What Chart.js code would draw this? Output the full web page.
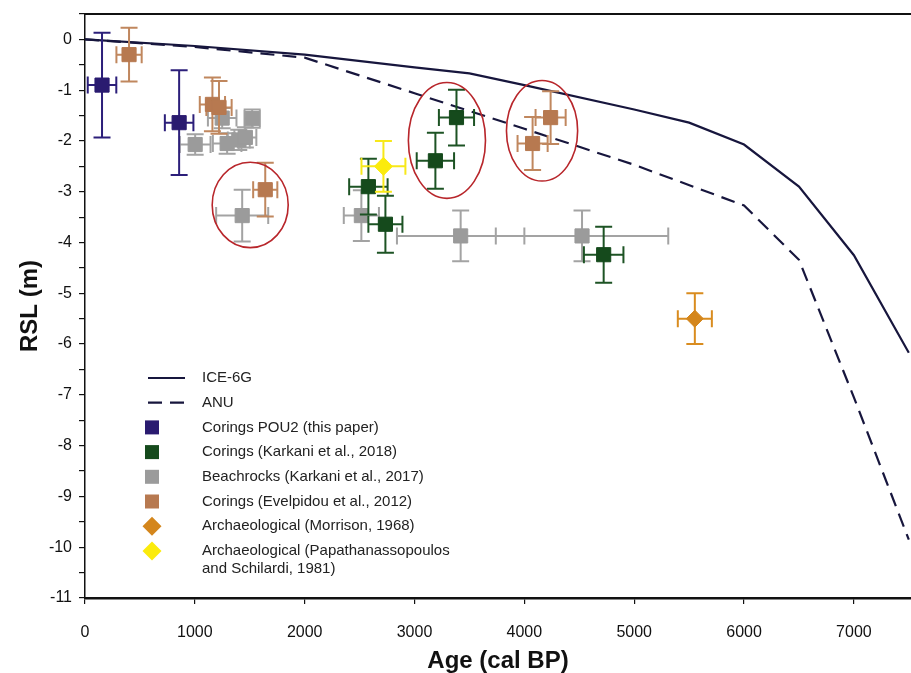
<!DOCTYPE html>
<html>
<head>
<meta charset="utf-8">
<script src="https://cdn.jsdelivr.net/npm/chart.js@4/dist/chart.umd.min.js"></script>
<style>
  html, body { margin: 0; padding: 0; background: #fff; }
  #wrap { width: 911px; height: 673px; }
</style>
</head>
<body>
<div id="wrap"><canvas id="graph" width="911" height="673"></canvas></div>
<script>
// model curves
const iceAge = [0, 1000, 2000, 3000, 3500, 4000, 5000, 5500, 6000, 6500, 7000, 7500];
const iceRsl = [0, -0.13, -0.3, -0.55, -0.67, -0.9, -1.38, -1.64, -2.07, -2.9, -4.25, -6.17];
const anuAge = [0, 1000, 2000, 3000, 4000, 5000, 6000, 6500, 7000, 7500];
const anuRsl = [0, -0.15, -0.36, -1.06, -1.76, -2.47, -3.27, -4.34, -7.05, -9.85];

// Corings POU2 (this paper)
const pouAge = [155, 857];
const pouRsl = [-0.9, -1.64];
const pouAgeErr = [130, 130];
const pouRslErr = [1.03, 1.03];

// Corings (Karkani et al., 2018)
const k18Age = [2580, 2735, 3190, 3382, 4722];
const k18Rsl = [-2.9, -3.64, -2.39, -1.54, -4.24];
const k18AgeErr = [175, 155, 170, 160, 180];
const k18RslErr = [0.55, 0.56, 0.55, 0.55, 0.55];

// Beachrocks (Karkani et al., 2017)
const k17Age = [1003, 1249, 1294, 1400, 1460, 1522, 1431, 2516, 3420, 4525];
const k17Rsl = [-2.07, -1.55, -2.05, -1.98, -1.93, -1.56, -3.47, -3.47, -3.87, -3.87];
const k17AgeErr = [140, 130, 130, 100, 100, 70, 237, 160, 580, 785];
const k17RslErr = [0.2, 0.2, 0.2, 0.2, 0.2, 0.18, 0.51, 0.5, 0.5, 0.5];

// Corings (Evelpidou et al., 2012)
const evAge = [401, 1160, 1220, 1641, 4075, 4239];
const evRsl = [-0.3, -1.28, -1.34, -2.96, -2.05, -1.54];
const evAgeErr = [115, 115, 115, 110, 137, 137];
const evRslErr = [0.53, 0.53, 0.52, 0.53, 0.52, 0.52];

// Archaeological
const morAge = [5552];
const morRsl = [-5.5];
const morAgeErr = [155];
const morRslErr = [0.5];
const papAge = [2717];
const papRsl = [-2.5];
const papAgeErr = [200];
const papRslErr = [0.5];

// red circles: centre age, centre rsl, half width (yr), half height (m)
const circleAge = [1504, 3295, 4161];
const circleRsl = [-3.26, -1.99, -1.80];
const circleRx = [346, 351, 324];
const circleRy = [0.84, 1.14, 0.99];

const xTicks = [0, 1000, 2000, 3000, 4000, 5000, 6000, 7000];

function pts(xs, ys) {
  return xs.map((x, i) => ({ x: x, y: ys[i] }));
}

const errorBars = {
  id: "errorBars",
  beforeDatasetDraw(chart, args) {
    const ds = chart.data.datasets[args.index];
    if (!ds.errX) return;
    const sx = chart.scales.x;
    const sy = chart.scales.y;
    const ctx = chart.ctx;
    const cap = 8.5;
    ctx.save();
    ctx.strokeStyle = ds.barColor;
    ctx.lineWidth = 2;
    ds.data.forEach((p, i) => {
      const cx = sx.getPixelForValue(p.x);
      const cy = sy.getPixelForValue(p.y);
      const x1 = sx.getPixelForValue(p.x - ds.errX[i]);
      const x2 = sx.getPixelForValue(p.x + ds.errX[i]);
      const y1 = sy.getPixelForValue(p.y + ds.errY[i]);
      const y2 = sy.getPixelForValue(p.y - ds.errY[i]);
      ctx.beginPath();
      ctx.moveTo(x1, cy); ctx.lineTo(x2, cy);
      ctx.moveTo(x1, cy - cap); ctx.lineTo(x1, cy + cap);
      ctx.moveTo(x2, cy - cap); ctx.lineTo(x2, cy + cap);
      ctx.moveTo(cx, y1); ctx.lineTo(cx, y2);
      ctx.moveTo(cx - cap, y1); ctx.lineTo(cx + cap, y1);
      ctx.moveTo(cx - cap, y2); ctx.lineTo(cx + cap, y2);
      ctx.stroke();
    });
    ctx.restore();
  }
};

const extras = {
  id: "extras",
  afterDatasetsDraw(chart) {
    const ctx = chart.ctx;
    const sx = chart.scales.x;
    const sy = chart.scales.y;
    const area = chart.chartArea;
    ctx.save();
    // red circles
    ctx.strokeStyle = "#b8262b";
    ctx.lineWidth = 1.6;
    circleAge.forEach((a, i) => {
      const cx = sx.getPixelForValue(a);
      const cy = sy.getPixelForValue(circleRsl[i]);
      const rx = Math.abs(sx.getPixelForValue(a + circleRx[i]) - cx);
      const ry = Math.abs(sy.getPixelForValue(circleRsl[i] + circleRy[i]) - cy);
      ctx.beginPath();
      ctx.ellipse(cx, cy, rx, ry, 0, 0, Math.PI * 2);
      ctx.stroke();
    });
    // top frame
    ctx.strokeStyle = "#111";
    ctx.lineWidth = 2;
    ctx.beginPath();
    ctx.moveTo(area.left, area.top);
    ctx.lineTo(area.right, area.top);
    ctx.stroke();
    ctx.restore();
  },
  afterDraw(chart) {
    // legend inside the plot
    const ctx = chart.ctx;
    const x0 = 148, tx = 202;
    let y = 378;
    const step = 24.7;
    ctx.save();
    ctx.font = '15px "Liberation Sans", Arial, sans-serif';
    ctx.textBaseline = "middle";
    ctx.fillStyle = "#222";
    chart.data.datasets.forEach((ds) => {
      ctx.save();
      if (ds.showLine) {
        ctx.strokeStyle = ds.borderColor;
        ctx.lineWidth = 2.2;
        ctx.setLineDash(ds.borderDash || []);
        ctx.beginPath();
        ctx.moveTo(x0, y);
        ctx.lineTo(x0 + 37, y);
        ctx.stroke();
      } else {
        ctx.fillStyle = ds.backgroundColor;
        const mx = 152;
        if (ds.pointStyle === "rectRot") {
          const r = 9.5;
          ctx.beginPath();
          ctx.moveTo(mx, y - r);
          ctx.lineTo(mx + r, y);
          ctx.lineTo(mx, y + r);
          ctx.lineTo(mx - r, y);
          ctx.closePath();
          ctx.fill();
        } else {
          ctx.fillRect(mx - 7, y - 7, 14, 14);
        }
      }
      ctx.restore();
      const lines = Array.isArray(ds.label) ? ds.label : [ds.label];
      lines.forEach((t, k) => ctx.fillText(t, tx, y + k * 17.5));
      y += step;
    });
    ctx.restore();
  }
};

const ctx = document.getElementById("graph").getContext("2d");

new Chart(ctx, {
  type: "scatter",
  data: {
    datasets: [
      {
        label: "ICE-6G",
        data: pts(iceAge, iceRsl),
        showLine: true,
        borderColor: "#17163d",
        borderWidth: 2.2,
        pointRadius: 0,
        order: 10,
      },
      {
        label: "ANU",
        data: pts(anuAge, anuRsl),
        showLine: true,
        borderColor: "#17163d",
        borderWidth: 2.2,
        borderDash: [14, 8],
        pointRadius: 0,
        order: 9,
      },
      {
        label: "Corings POU2 (this paper)",
        data: pts(pouAge, pouRsl),
        errX: pouAgeErr,
        errY: pouRslErr,
        barColor: "#2c1f7a",
        backgroundColor: "#2a1b70",
        borderColor: "#2a1b70",
        pointStyle: "rect",
        pointRadius: 10,
        order: 3,
      },
      {
        label: "Corings (Karkani et al., 2018)",
        data: pts(k18Age, k18Rsl),
        errX: k18AgeErr,
        errY: k18RslErr,
        barColor: "#1d5324",
        backgroundColor: "#154a1c",
        borderColor: "#154a1c",
        pointStyle: "rect",
        pointRadius: 10,
        order: 4,
      },
      {
        label: "Beachrocks (Karkani et al., 2017)",
        data: pts(k17Age, k17Rsl),
        errX: k17AgeErr,
        errY: k17RslErr,
        barColor: "#a3a3a3",
        backgroundColor: "#9b9b9b",
        borderColor: "#9b9b9b",
        pointStyle: "rect",
        pointRadius: 10,
        order: 6,
      },
      {
        label: "Corings (Evelpidou et al., 2012)",
        data: pts(evAge, evRsl),
        errX: evAgeErr,
        errY: evRslErr,
        barColor: "#c0875e",
        backgroundColor: "#b77950",
        borderColor: "#b77950",
        pointStyle: "rect",
        pointRadius: 10,
        order: 5,
      },
      {
        label: "Archaeological (Morrison, 1968)",
        data: pts(morAge, morRsl),
        errX: morAgeErr,
        errY: morRslErr,
        barColor: "#d98c1f",
        backgroundColor: "#d4861c",
        borderColor: "#d4861c",
        pointStyle: "rectRot",
        pointRadius: 8.5,
        order: 1,
      },
      {
        label: ["Archaeological (Papathanassopoulos", "and Schilardi, 1981)"],
        data: pts(papAge, papRsl),
        errX: papAgeErr,
        errY: papRslErr,
        barColor: "#f7e81a",
        backgroundColor: "#fbeb0c",
        borderColor: "#fbeb0c",
        pointStyle: "rectRot",
        pointRadius: 9,
        order: 2,
      },
    ],
  },
  options: {
    responsive: false,
    animation: false,
    layout: { autoPadding: false, padding: { top: 14, right: 0, left: 0, bottom: 0 } },
    plugins: {
      legend: { display: false },
      tooltip: { enabled: false },
    },
    scales: {
      x: {
        type: "linear",
        min: 0,
        max: 7520,
        afterFit: (s) => {
          s.height = 75;
          s.paddingLeft = 0;
          s.paddingRight = 0;
        },
        afterBuildTicks: (s) => { s.ticks = xTicks.map((v) => ({ value: v })); },
        ticks: {
          callback: (v) => String(v),
          color: "#111",
          font: { family: '"Liberation Sans", Arial, sans-serif', size: 16 },
          padding: 19,
          maxRotation: 0,
          autoSkip: false,
        },
        grid: { drawOnChartArea: false, tickLength: 6, color: "#111", lineWidth: 1.2 },
        border: { color: "#111", width: 2.5 },
        title: {
          display: true,
          text: "Age (cal BP)",
          color: "#111",
          font: { family: '"Liberation Sans", Arial, sans-serif', size: 24, weight: "bold", lineHeight: 1 },
          padding: { top: 0, bottom: 0 },
        },
      },
      y: {
        type: "linear",
        min: -11,
        max: 0.5,
        afterFit: (s) => {
          s.width = 85;
          s.paddingTop = 0;
          s.paddingBottom = 0;
        },
        ticks: {
          stepSize: 0.5,
          callback: (v) => (Number.isInteger(v) ? String(v) : ""),
          color: "#111",
          font: { family: '"Liberation Sans", Arial, sans-serif', size: 16 },
          padding: 7,
          autoSkip: false,
        },
        grid: { drawOnChartArea: false, tickLength: 6, color: "#111", lineWidth: 1.2 },
        border: { color: "#111", width: 1.5 },
        title: {
          display: true,
          text: "RSL (m)",
          color: "#111",
          font: { family: '"Liberation Sans", Arial, sans-serif', size: 24, weight: "bold", lineHeight: 1 },
          padding: { top: 18, bottom: 0 },
        },
      },
    },
  },
  plugins: [errorBars, extras],
});
</script>
</body>
</html>
